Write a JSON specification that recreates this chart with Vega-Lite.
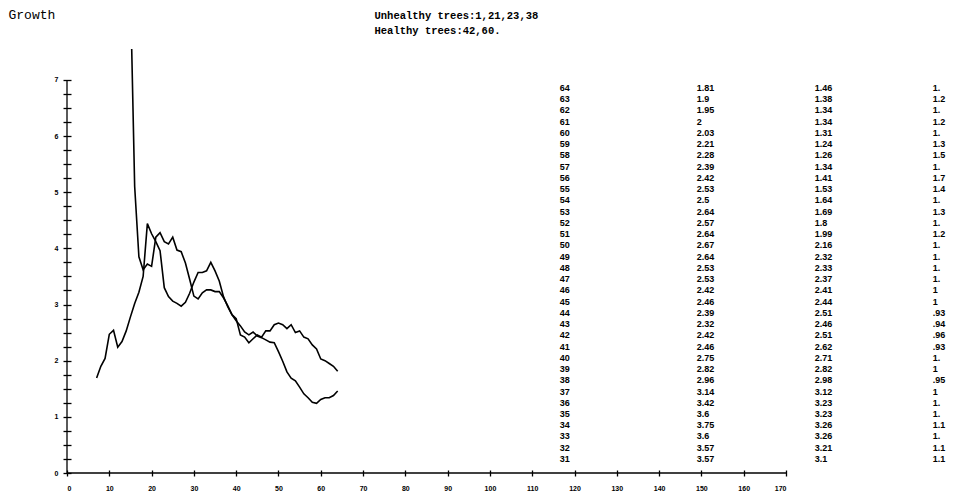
{
  "$schema": "https://vega.github.io/schema/vega-lite/v6.json",
  "autosize": "none",
  "width": 719,
  "height": 424,
  "padding": {"left": 67, "top": 49, "right": 170, "bottom": 22},
  "background": "white",
  "config": {
    "view": {"stroke": null},
    "axisX": {
      "values": [0,5,10,15,20,25,30,35,40,45,50,55,60,65,70,75,80,85,90,95,100,105,110,115,120,125,130,135,140,145,150,155,160,165,170],
      "labelExpr": "datum.value % 10 === 0 ? '' + datum.value : ''",
      "domain": false, "grid": false, "offset": -3, "tickSize": 6, "tickWidth": 1.3, "tickColor": "black",
      "labelFont": "Liberation Sans", "labelFontSize": 7, "labelFontWeight": "bold", "labelColor": "black",
      "labelPadding": 8, "labelOverlap": false
    }
  },
  "datasets": {
    "lines": [
      {"year": 7, "growth": 1.69, "series": "A"}, {"year": 8, "growth": 1.9, "series": "A"}, {"year": 9, "growth": 2.04, "series": "A"},
      {"year": 10, "growth": 2.47, "series": "A"}, {"year": 11, "growth": 2.54, "series": "A"}, {"year": 12, "growth": 2.24, "series": "A"},
      {"year": 13, "growth": 2.34, "series": "A"}, {"year": 14, "growth": 2.53, "series": "A"}, {"year": 15, "growth": 2.78, "series": "A"},
      {"year": 16, "growth": 3.02, "series": "A"}, {"year": 17, "growth": 3.22, "series": "A"}, {"year": 18, "growth": 3.5, "series": "A"},
      {"year": 19, "growth": 4.44, "series": "A"}, {"year": 20, "growth": 4.26, "series": "A"}, {"year": 21, "growth": 4.12, "series": "A"},
      {"year": 22, "growth": 3.96, "series": "A"}, {"year": 23, "growth": 3.3, "series": "A"}, {"year": 24, "growth": 3.14, "series": "A"},
      {"year": 25, "growth": 3.06, "series": "A"}, {"year": 26, "growth": 3.02, "series": "A"}, {"year": 27, "growth": 2.97, "series": "A"},
      {"year": 28, "growth": 3.04, "series": "A"}, {"year": 29, "growth": 3.2, "series": "A"}, {"year": 30, "growth": 3.4, "series": "A"},
      {"year": 31, "growth": 3.57, "series": "A"}, {"year": 32, "growth": 3.57, "series": "A"}, {"year": 33, "growth": 3.6, "series": "A"},
      {"year": 34, "growth": 3.75, "series": "A"}, {"year": 35, "growth": 3.6, "series": "A"}, {"year": 36, "growth": 3.42, "series": "A"},
      {"year": 37, "growth": 3.14, "series": "A"}, {"year": 38, "growth": 2.96, "series": "A"}, {"year": 39, "growth": 2.82, "series": "A"},
      {"year": 40, "growth": 2.75, "series": "A"}, {"year": 41, "growth": 2.46, "series": "A"}, {"year": 42, "growth": 2.42, "series": "A"},
      {"year": 43, "growth": 2.32, "series": "A"}, {"year": 44, "growth": 2.39, "series": "A"}, {"year": 45, "growth": 2.46, "series": "A"},
      {"year": 46, "growth": 2.42, "series": "A"}, {"year": 47, "growth": 2.53, "series": "A"}, {"year": 48, "growth": 2.53, "series": "A"},
      {"year": 49, "growth": 2.64, "series": "A"}, {"year": 50, "growth": 2.67, "series": "A"}, {"year": 51, "growth": 2.64, "series": "A"},
      {"year": 52, "growth": 2.57, "series": "A"}, {"year": 53, "growth": 2.64, "series": "A"}, {"year": 54, "growth": 2.5, "series": "A"},
      {"year": 55, "growth": 2.53, "series": "A"}, {"year": 56, "growth": 2.42, "series": "A"}, {"year": 57, "growth": 2.39, "series": "A"},
      {"year": 58, "growth": 2.28, "series": "A"}, {"year": 59, "growth": 2.21, "series": "A"}, {"year": 60, "growth": 2.03, "series": "A"},
      {"year": 61, "growth": 2, "series": "A"}, {"year": 62, "growth": 1.95, "series": "A"}, {"year": 63, "growth": 1.9, "series": "A"},
      {"year": 64, "growth": 1.81, "series": "A"},
      {"year": 15, "growth": 8.6, "series": "B"}, {"year": 16, "growth": 5.1, "series": "B"}, {"year": 17, "growth": 3.85, "series": "B"},
      {"year": 18, "growth": 3.62, "series": "B"}, {"year": 19, "growth": 3.72, "series": "B"}, {"year": 20, "growth": 3.68, "series": "B"},
      {"year": 21, "growth": 4.2, "series": "B"}, {"year": 22, "growth": 4.28, "series": "B"}, {"year": 23, "growth": 4.12, "series": "B"},
      {"year": 24, "growth": 4.08, "series": "B"}, {"year": 25, "growth": 4.2, "series": "B"}, {"year": 26, "growth": 3.97, "series": "B"},
      {"year": 27, "growth": 3.94, "series": "B"}, {"year": 28, "growth": 3.74, "series": "B"}, {"year": 29, "growth": 3.45, "series": "B"},
      {"year": 30, "growth": 3.15, "series": "B"}, {"year": 31, "growth": 3.1, "series": "B"}, {"year": 32, "growth": 3.21, "series": "B"},
      {"year": 33, "growth": 3.26, "series": "B"}, {"year": 34, "growth": 3.26, "series": "B"}, {"year": 35, "growth": 3.23, "series": "B"},
      {"year": 36, "growth": 3.23, "series": "B"}, {"year": 37, "growth": 3.12, "series": "B"}, {"year": 38, "growth": 2.98, "series": "B"},
      {"year": 39, "growth": 2.82, "series": "B"}, {"year": 40, "growth": 2.71, "series": "B"}, {"year": 41, "growth": 2.62, "series": "B"},
      {"year": 42, "growth": 2.51, "series": "B"}, {"year": 43, "growth": 2.46, "series": "B"}, {"year": 44, "growth": 2.51, "series": "B"},
      {"year": 45, "growth": 2.44, "series": "B"}, {"year": 46, "growth": 2.41, "series": "B"}, {"year": 47, "growth": 2.37, "series": "B"},
      {"year": 48, "growth": 2.33, "series": "B"}, {"year": 49, "growth": 2.32, "series": "B"}, {"year": 50, "growth": 2.16, "series": "B"},
      {"year": 51, "growth": 1.99, "series": "B"}, {"year": 52, "growth": 1.8, "series": "B"}, {"year": 53, "growth": 1.69, "series": "B"},
      {"year": 54, "growth": 1.64, "series": "B"}, {"year": 55, "growth": 1.53, "series": "B"}, {"year": 56, "growth": 1.41, "series": "B"},
      {"year": 57, "growth": 1.34, "series": "B"}, {"year": 58, "growth": 1.26, "series": "B"}, {"year": 59, "growth": 1.24, "series": "B"},
      {"year": 60, "growth": 1.31, "series": "B"}, {"year": 61, "growth": 1.34, "series": "B"}, {"year": 62, "growth": 1.34, "series": "B"},
      {"year": 63, "growth": 1.38, "series": "B"}, {"year": 64, "growth": 1.46, "series": "B"}
    ],
    "table": [
      {"year": 64, "a": 1.81, "b": 1.46, "c": "1.21"},
      {"year": 63, "a": 1.9, "b": 1.38, "c": "1.2"},
      {"year": 62, "a": 1.95, "b": 1.34, "c": "1.23"},
      {"year": 61, "a": 2, "b": 1.34, "c": "1.2"},
      {"year": 60, "a": 2.03, "b": 1.31, "c": "1.32"},
      {"year": 59, "a": 2.21, "b": 1.24, "c": "1.3"},
      {"year": 58, "a": 2.28, "b": 1.26, "c": "1.5"},
      {"year": 57, "a": 2.39, "b": 1.34, "c": "1.36"},
      {"year": 56, "a": 2.42, "b": 1.41, "c": "1.7"},
      {"year": 55, "a": 2.53, "b": 1.53, "c": "1.4"},
      {"year": 54, "a": 2.5, "b": 1.64, "c": "1.36"},
      {"year": 53, "a": 2.64, "b": 1.69, "c": "1.3"},
      {"year": 52, "a": 2.57, "b": 1.8, "c": "1.06"},
      {"year": 51, "a": 2.64, "b": 1.99, "c": "1.2"},
      {"year": 50, "a": 2.67, "b": 2.16, "c": "1.19"},
      {"year": 49, "a": 2.64, "b": 2.32, "c": "1.12"},
      {"year": 48, "a": 2.53, "b": 2.33, "c": "1.06"},
      {"year": 47, "a": 2.53, "b": 2.37, "c": "1.03"},
      {"year": 46, "a": 2.42, "b": 2.41, "c": "1"},
      {"year": 45, "a": 2.46, "b": 2.44, "c": "1"},
      {"year": 44, "a": 2.39, "b": 2.51, "c": ".93"},
      {"year": 43, "a": 2.32, "b": 2.46, "c": ".94"},
      {"year": 42, "a": 2.42, "b": 2.51, "c": ".96"},
      {"year": 41, "a": 2.46, "b": 2.62, "c": ".93"},
      {"year": 40, "a": 2.75, "b": 2.71, "c": "1.05"},
      {"year": 39, "a": 2.82, "b": 2.82, "c": "1"},
      {"year": 38, "a": 2.96, "b": 2.98, "c": ".95"},
      {"year": 37, "a": 3.14, "b": 3.12, "c": "1"},
      {"year": 36, "a": 3.42, "b": 3.23, "c": "1.05"},
      {"year": 35, "a": 3.6, "b": 3.23, "c": "1.13"},
      {"year": 34, "a": 3.75, "b": 3.26, "c": "1.1"},
      {"year": 33, "a": 3.6, "b": 3.26, "c": "1.13"},
      {"year": 32, "a": 3.57, "b": 3.21, "c": "1.1"},
      {"year": 31, "a": 3.57, "b": 3.1, "c": "1.1"}
    ]
  },
  "resolve": {"scale": {"y": "independent"}, "axis": {"y": "independent"}},
  "layer": [
    {
      "data": {"name": "lines"},
      "mark": {"type": "line", "color": "black", "strokeWidth": 1.6, "clip": true},
      "encoding": {
        "x": {
          "field": "year", "type": "quantitative",
          "scale": {"domain": [0, 170], "nice": false, "zero": false},
          "axis": {"title": null}
        },
        "y": {
          "field": "growth", "type": "quantitative",
          "scale": {"domain": [0, 7.55], "nice": false, "zero": false},
          "axis": {
            "orient": "left",
            "values": [0,0.25,0.5,0.75,1,1.25,1.5,1.75,2,2.25,2.5,2.75,3,3.25,3.5,3.75,4,4.25,4.5,4.75,5,5.25,5.5,5.75,6,6.25,6.5,6.75,7],
            "labelExpr": "datum.value % 1 === 0 ? '' + datum.value : ''",
            "domain": false, "grid": false, "offset": -4, "tickSize": 8, "tickWidth": 1.3, "tickColor": "black",
            "labelFont": "Liberation Sans", "labelFontSize": 7, "labelFontWeight": "bold", "labelColor": "black",
            "labelPadding": 5, "labelOverlap": false,
            "title": "Growth", "titleAngle": 0, "titleAlign": "left", "titleBaseline": "alphabetic",
            "titleX": -63, "titleY": -31, "titleFont": "Liberation Mono", "titleFontSize": 13,
            "titleFontWeight": "normal", "titleColor": "black"
          }
        },
        "detail": {"field": "series", "type": "nominal"}
      }
    },
    {
      "data": {"values": [{}]},
      "mark": {"type": "rule", "color": "black", "strokeWidth": 1.3},
      "encoding": {
        "x": {"datum": 0, "type": "quantitative", "scale": {"domain": [0, 170], "nice": false, "zero": false}},
        "y": {"datum": 0, "type": "quantitative", "scale": {"domain": [0, 7.55], "nice": false, "zero": false}, "axis": null},
        "y2": {"datum": 7}
      }
    },
    {
      "data": {"values": [{}]},
      "mark": {"type": "rule", "color": "black", "strokeWidth": 1.3},
      "encoding": {
        "x": {"datum": 0, "type": "quantitative", "scale": {"domain": [0, 170], "nice": false, "zero": false}},
        "x2": {"datum": 170},
        "y": {"datum": 0, "type": "quantitative", "scale": {"domain": [0, 7.55], "nice": false, "zero": false}, "axis": null}
      }
    },
    {
      "data": {"name": "table"},
      "mark": {"type": "text", "align": "left", "baseline": "middle", "font": "Liberation Sans", "fontSize": 9, "fontWeight": "bold", "color": "black"},
      "encoding": {
        "x": {"datum": 116.5, "type": "quantitative", "scale": {"domain": [0, 170], "nice": false, "zero": false}},
        "y": {
          "field": "year", "type": "quantitative",
          "scale": {"domain": [29.75, 67.47], "nice": false, "zero": false},
          "axis": {
            "orient": "left", "domain": false, "ticks": false, "labels": false, "grid": false,
            "title": ["Unhealthy trees:1,21,23,38", "Healthy trees:42,60."],
            "titleAngle": 0, "titleAlign": "left", "titleBaseline": "alphabetic",
            "titleX": 307, "titleY": -31, "titleFont": "Liberation Mono", "titleFontSize": 10.5,
            "titleFontWeight": "bold", "titleColor": "black", "titleLineHeight": 15
          }
        },
        "text": {"field": "year", "type": "nominal"}
      }
    },
    {
      "data": {"name": "table"},
      "mark": {"type": "text", "align": "left", "baseline": "middle", "font": "Liberation Sans", "fontSize": 9, "fontWeight": "bold", "color": "black"},
      "encoding": {
        "x": {"datum": 148.9, "type": "quantitative", "scale": {"domain": [0, 170], "nice": false, "zero": false}},
        "y": {"field": "year", "type": "quantitative", "scale": {"domain": [29.75, 67.47], "nice": false, "zero": false}, "axis": null},
        "text": {"field": "a", "type": "nominal"}
      }
    },
    {
      "data": {"name": "table"},
      "mark": {"type": "text", "align": "left", "baseline": "middle", "font": "Liberation Sans", "fontSize": 9, "fontWeight": "bold", "color": "black"},
      "encoding": {
        "x": {"datum": 176.8, "type": "quantitative", "scale": {"domain": [0, 170], "nice": false, "zero": false}},
        "y": {"field": "year", "type": "quantitative", "scale": {"domain": [29.75, 67.47], "nice": false, "zero": false}, "axis": null},
        "text": {"field": "b", "type": "nominal"}
      }
    },
    {
      "data": {"name": "table"},
      "mark": {"type": "text", "align": "left", "baseline": "middle", "font": "Liberation Sans", "fontSize": 9, "fontWeight": "bold", "color": "black", "limit": 15, "ellipsis": " "},
      "encoding": {
        "x": {"datum": 204.7, "type": "quantitative", "scale": {"domain": [0, 170], "nice": false, "zero": false}},
        "y": {"field": "year", "type": "quantitative", "scale": {"domain": [29.75, 67.47], "nice": false, "zero": false}, "axis": null},
        "text": {"field": "c", "type": "nominal"}
      }
    }
  ]
}
